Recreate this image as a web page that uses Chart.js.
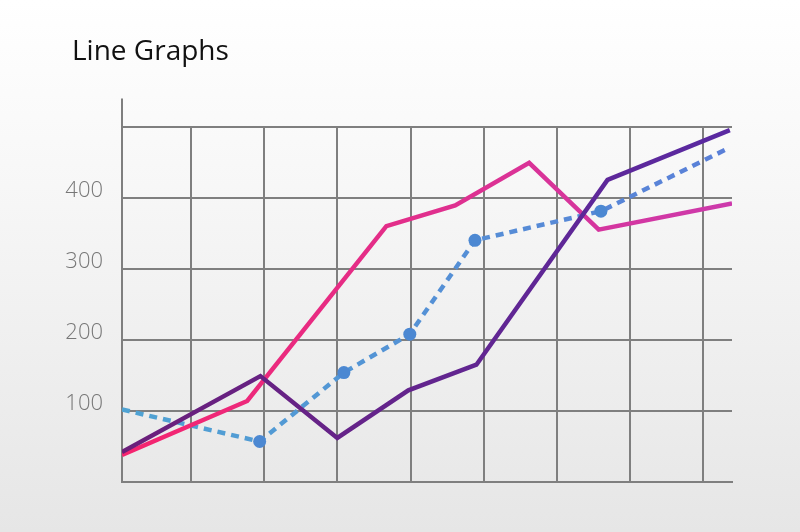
<!DOCTYPE html>
<html lang="en">
<head>
<meta charset="UTF-8">
<meta name="viewport" content="width=device-width, initial-scale=1.0">
<title>Line Graphs</title>
<script src="https://cdn.jsdelivr.net/npm/chart.js"></script>
<style>
  html, body { margin: 0; padding: 0; }
  body {
    width: 800px;
    height: 532px;
    overflow: hidden;
    background: linear-gradient(#ffffff 0%, #f7f7f7 35%, #e6e6e6 100%);
  }
  .grafico { position: relative; width: 800px; height: 532px; }
</style>
</head>
<body>
<div class="grafico"><canvas id="myChart"></canvas></div>

<script>
// grid columns and value ticks
const xGrid = [1, 2, 3, 4, 5, 6, 7, 8];
const xMin = 0.06, xMax = 8.39;
const yTicks = [0, 100, 200, 300, 400, 500];

// series (x in grid columns, y in values)
const dashedX = [0.06, 1.94, 3.09, 3.99, 4.88, 6.60, 8.33];
const dashedY = [102, 57, 154, 208, 340, 381, 469];
const pinkX = [0.06, 1.77, 3.67, 4.61, 5.62, 6.57, 8.39];
const pinkY = [38, 114, 360, 389, 449, 355, 392];
const purpleX = [0.06, 1.95, 3.00, 3.97, 4.90, 6.69, 8.36];
const purpleY = [42, 149, 62, 129, 165, 425, 495];

const gridColor = '#7f7f7f';

function pontos(xs, ys) {
  return xs.map((x, i) => ({ x: x, y: ys[i] }));
}

function grad(c0, c1) {
  return function (context) {
    const chart = context.chart;
    const a = chart.chartArea;
    if (!a) return c0;
    const g = chart.ctx.createLinearGradient(a.left, 0, a.right, 0);
    g.addColorStop(0, c0);
    g.addColorStop(1, c1);
    return g;
  };
}

// title sits a bit right of the canvas edge, y axis line sticks out above the top grid line
const ajustes = {
  id: 'ajustes',
  afterLayout(chart) {
    if (chart.titleBlock) chart.titleBlock.left = 72;
  },
  afterDraw(chart) {
    const ctx = chart.ctx, a = chart.chartArea;
    ctx.save();
    ctx.strokeStyle = gridColor;
    ctx.lineWidth = 2;
    ctx.beginPath();
    ctx.moveTo(a.left, a.top);
    ctx.lineTo(a.left, a.top - 28);
    ctx.stroke();
    ctx.restore();
  }
};

const ctx = document.getElementById('myChart');
new Chart(ctx, {
  type: 'line',
  data: {
    datasets: [
      {
        label: 'Purple',
        data: pontos(purpleX, purpleY),
        borderColor: grad('#6b1f7a', '#5a2aa2'),
        borderWidth: 4.5,
        pointRadius: 0,
        tension: 0
      },
      {
        label: 'Pink',
        data: pontos(pinkX, pinkY),
        borderColor: grad('#f5246e', '#cc3aac'),
        borderWidth: 4.5,
        pointRadius: 0,
        tension: 0
      },
      {
        label: 'Blue',
        data: pontos(dashedX, dashedY),
        borderColor: grad('#4fa3d3', '#5a7fd8'),
        borderWidth: 4.5,
        borderDash: [8, 6],
        pointRadius: [0, 6.5, 6.5, 6.5, 6.5, 6.5, 0],
        pointBorderWidth: 0,
        pointBackgroundColor: '#4c88d2',
        tension: 0
      }
    ]
  },
  options: {
    responsive: true,
    maintainAspectRatio: false,
    animation: false,
    layout: { padding: { left: 0, right: 68, top: 0, bottom: 50 } },
    plugins: {
      legend: { display: false },
      tooltip: { enabled: false },
      title: {
        display: true,
        text: 'Line Graphs',
        align: 'start',
        color: '#111111',
        font: { family: 'Open Sans', size: 28, weight: 400 },
        padding: { top: 35, bottom: 58 }
      }
    },
    scales: {
      x: {
        type: 'linear',
        min: xMin,
        max: xMax,
        afterBuildTicks: s => { s.ticks = xGrid.map(v => ({ value: v })); },
        ticks: { display: false },
        grid: { color: gridColor, lineWidth: 2, drawTicks: false },
        border: { display: true, color: gridColor, width: 2 }
      },
      y: {
        min: 0,
        max: 500,
        afterBuildTicks: s => { s.ticks = yTicks.map(v => ({ value: v })); },
        afterFit: s => { s.width = 122; },
        ticks: {
          callback: v => (v === 0 || v === 500) ? '' : v,
          color: '#777777',
          font: { family: 'Open Sans', size: 22, weight: 300 },
          padding: 19,
          labelOffset: -7
        },
        grid: { color: gridColor, lineWidth: 2, drawTicks: false },
        border: { display: true, color: gridColor, width: 2 }
      }
    }
  },
  plugins: [ajustes]
});
</script>
</body>
</html>
